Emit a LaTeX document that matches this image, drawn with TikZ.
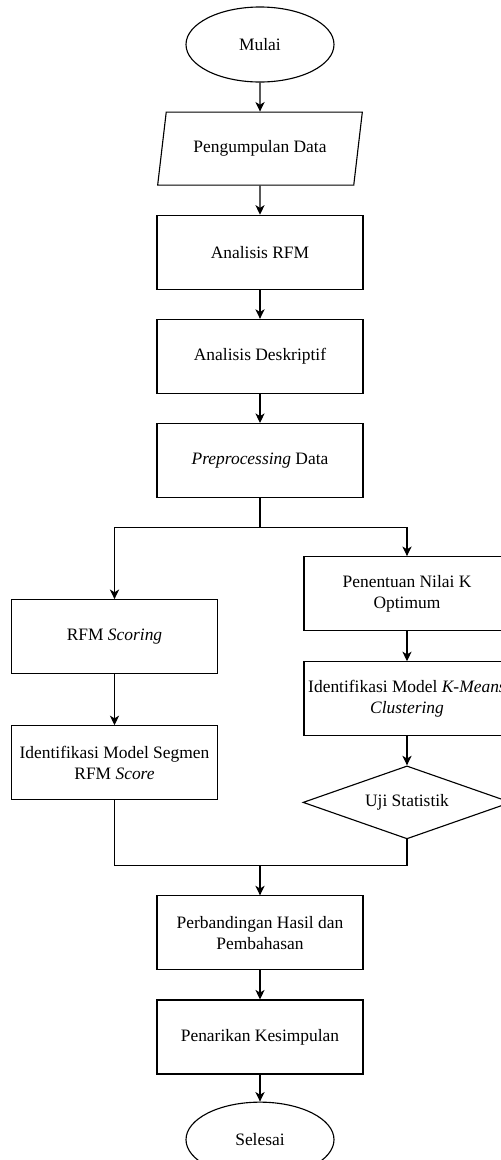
\documentclass[tikz,border=0pt]{standalone}
\usepackage{fontspec}
\setmainfont{Liberation Serif}
\usepackage{tikz}
\usetikzlibrary{positioning, shapes.geometric, arrows.meta}

\begin{document}
\begin{tikzpicture}[
        font=\fontsize{12.4}{14.6}\selectfont,
        >={Stealth[length=2.4mm,width=2.3mm,inset=0.7mm]},
        proses/.style={rectangle,draw,thick,minimum width=5.15cm,minimum height=1.85cm,inner sep=1pt,align=center},
        terminal/.style={ellipse,draw,thick,minimum width=3.7cm,minimum height=1.875cm,inner sep=0pt},
        masukan/.style={trapezium,trapezium left angle=69,trapezium right angle=111,trapezium stretches=true,draw,thick,minimum width=5.125cm,minimum height=1.825cm,inner sep=0pt},
        keputusan/.style={diamond,draw,thick,minimum width=5.2cm,minimum height=1.825cm,inner sep=0pt,aspect=2.8}
    ]
            \useasboundingbox (0,0) rectangle (12.525,-29);

            \node[terminal](mulai) at (6.5,-1.1125){Mulai};
            \node[masukan](data)[below = 0.725cm of mulai]{Pengumpulan Data};
            \node[proses](rfm)[below = 0.725cm of data]{Analisis RFM};
            \node[proses](desk)[below = 0.725cm of rfm]{Analisis Deskriptif};
            \node[proses](prep)[below = 0.725cm of desk]{\textit{Preprocessing} Data};

            \node[proses](scoring)[below = 2.525cm of prep, xshift=-3.6375cm]{RFM \textit{Scoring}};
            \node[proses](segmen)[below = 1.275cm of scoring]{Identifikasi Model Segmen\\RFM \textit{Score}};

            \node[proses](nilaik)[below = 1.45cm of prep, xshift=3.675cm]{Penentuan Nilai K\\Optimum};
            \node[proses](kmeans)[below = 0.75cm of nilaik]{Identifikasi Model \textit{K-Means}\\\textit{Clustering}};
            \node[keputusan](uji)[below = 0.725cm of kmeans]{Uji Statistik};

            \node[proses](banding)[below = 2.375cm of segmen, xshift=3.6375cm]{Perbandingan Hasil dan\\Pembahasan};
            \node[proses](tarik)[below = 0.725cm of banding]{Penarikan Kesimpulan};
            \node[terminal](selesai)[below = 0.675cm of tarik]{Selesai};

            \coordinate (cabang) at ([yshift=-0.725cm]prep.south);
            \coordinate (gabung) at ([yshift=0.75cm]banding.north);

            \path[->, draw, thick]
            (mulai) edge (data)
            (data) edge (rfm)
            (rfm) edge (desk)
            (desk) edge (prep)
            (scoring) edge (segmen)
            (nilaik) edge (kmeans)
            (kmeans) edge (uji)
            (banding) edge (tarik)
            (tarik) edge (selesai);

            \draw[thick] (prep) -- (cabang);
            \draw[->, thick] (cabang) -| (scoring);
            \draw[->, thick] (cabang) -| (nilaik);
            \draw[thick] (segmen) |- (gabung) -| (uji);
            \draw[->, thick] (gabung) -- (banding);
        \end{tikzpicture}
\end{document}
